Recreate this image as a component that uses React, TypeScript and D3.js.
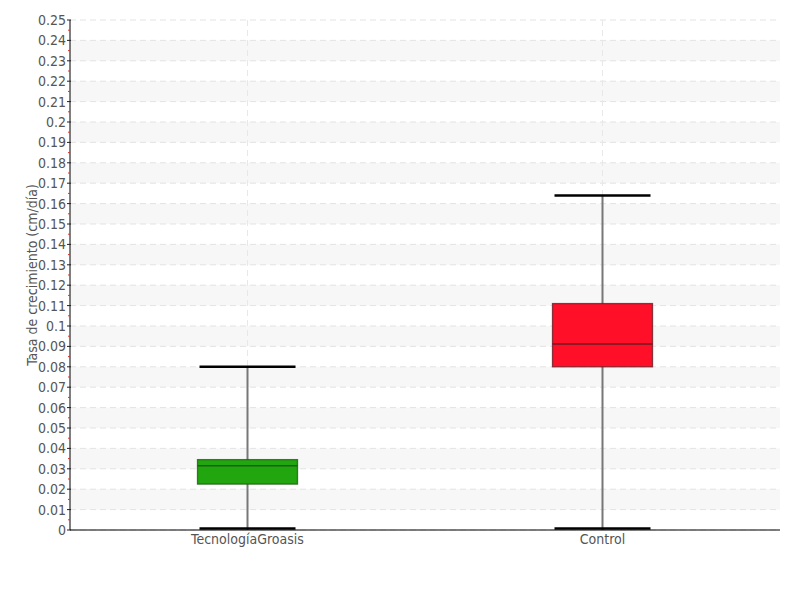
import React from "react";
import * as d3 from "d3";

const categories = ["TecnologíaGroasis", "Control"];
const minValues = [0, 0];
const q1Values = [0.0225, 0.08];
const medianValues = [0.0315, 0.0912];
const q3Values = [0.0345, 0.111];
const maxValues = [0.08, 0.164];
const fillColors = ["#22a60f", "#ff0f28"];
const strokeColors = ["#1c5e12", "#6b1a22"];
const yTicks = d3.range(0, 26).map((i) => +(i * 0.01).toFixed(2));
const yLabel = "Tasa de crecimiento (cm/día)";

const W = 800, H = 600;
const M = { left: 70, right: 20, top: 20, bottom: 70 };
const FONT = "'DejaVu Sans', sans-serif";

export default function App() {
  const y = d3.scaleLinear().domain([0, 0.25]).range([H - M.bottom, M.top]);
  const x = d3.scaleBand<string>().domain(categories).range([M.left, W - M.right]).padding(0);
  const xc = (c: string) => (x(c) ?? 0) + x.bandwidth() / 2;
  const boxW = 100;
  const capW = 96;
  const minor = yTicks.slice(0, -1).map((t) => t + 0.005);
  return (
    <svg width={W} height={H} style={{ position: "absolute", left: 0, top: 0, background: "#fff" }} fontFamily={FONT} fontStretch="condensed">
      {yTicks.slice(0, -1).map((t, i) =>
        i % 2 === 1 ? (
          <rect key={"b" + i} x={M.left} y={y(t + 0.01)} width={W - M.right - M.left} height={y(t) - y(t + 0.01)} fill="#f7f7f7" />
        ) : null
      )}
      {yTicks.map((t) => (
        <line key={"g" + t} x1={M.left} x2={W - M.right} y1={y(t)} y2={y(t)} stroke="#e3e3e3" strokeDasharray="6,4" />
      ))}
      {categories.map((c) => (
        <line key={"vg" + c} x1={xc(c)} x2={xc(c)} y1={M.top} y2={y(0)} stroke="#e8e8e8" strokeDasharray="6,4" />
      ))}
      {categories.map((c, i) => {
        const cx = xc(c);
        return (
          <g key={"box" + c}>
            <line x1={cx} x2={cx} y1={y(minValues[i])} y2={y(maxValues[i])} stroke="#777" strokeWidth={2} />
            <line x1={cx - capW / 2} x2={cx + capW / 2} y1={y(maxValues[i])} y2={y(maxValues[i])} stroke="#000" strokeWidth={2.5} />
            <line x1={cx - capW / 2} x2={cx + capW / 2} y1={y(minValues[i]) - 1.5} y2={y(minValues[i]) - 1.5} stroke="#000" strokeWidth={2.5} />
            <rect x={cx - boxW / 2} y={y(q3Values[i])} width={boxW} height={y(q1Values[i]) - y(q3Values[i])} fill={fillColors[i]} stroke={strokeColors[i]} strokeOpacity={0.8} strokeWidth={1.3} />
            <line x1={cx - boxW / 2} x2={cx + boxW / 2} y1={y(medianValues[i])} y2={y(medianValues[i])} stroke={strokeColors[i]} strokeWidth={1.5} />
          </g>
        );
      })}
      <line x1={M.left} x2={M.left} y1={M.top} y2={y(0)} stroke="#000" strokeWidth={1} />
      <line x1={M.left} x2={W - M.right} y1={y(0)} y2={y(0)} stroke="#000" strokeWidth={1.2} />
      {minor.map((t) => (
        <line key={"mt" + t} x1={M.left - 2} x2={M.left} y1={y(t)} y2={y(t)} stroke="#e0302a" strokeWidth={1} />
      ))}
      {yTicks.map((t) => (
        <g key={"t" + t}>
          <line x1={M.left - 3} x2={M.left + 1} y1={y(t)} y2={y(t)} stroke="#222" strokeWidth={1} />
          <text x={M.left - 4} y={y(t)} dy="0.35em" textAnchor="end" fontSize={14} fill="#555">
            {String(t)}
          </text>
        </g>
      ))}
      {categories.map((c) => (
        <text key={"xl" + c} x={xc(c)} y={y(0) + 14} textAnchor="middle" fontSize={14} fill="#555">
          {c}
        </text>
      ))}
      <text transform={`translate(37, ${(M.top + y(0)) / 2}) rotate(-90)`} textAnchor="middle" fontSize={14} fill="#555">
        {yLabel}
      </text>
    </svg>
  );
}
